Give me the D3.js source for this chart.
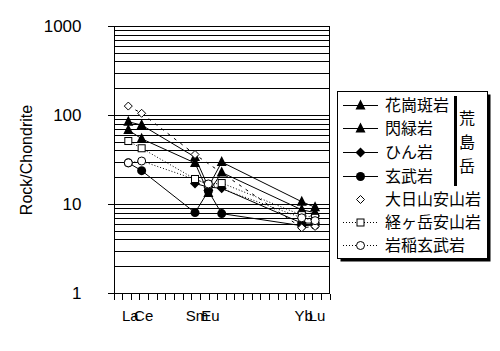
<!DOCTYPE html>
<html><head><meta charset="utf-8">
<script src="https://cdn.jsdelivr.net/npm/d3@7"></script>
<style>
html,body{margin:0;padding:0;background:#fff;}
svg{display:block;}
text{font-family:"Liberation Sans",Arial,sans-serif;fill:#000;}
.jp{font-family:"Noto Sans CJK JP","Noto Sans CJK SC",sans-serif;}
.narrow{font-family:"Liberation Sans Narrow","Liberation Sans",Arial,sans-serif;}
</style></head>
<body>
<svg id="chart" width="500" height="351"></svg>
<script>
// ---- data ----
const elements = ["La","Ce","Sm","Eu","Gd","Yb","Lu"];
const atomicNumbers = [57,58,62,63,64,70,71];
const axisLabels = ["La","Ce","Sm","Eu","Yb","Lu"];
const axisLabelZ = [57,58,62,63,70,71];
const yTickValues = [1,10,100,1000];
const seriesNames = ["花崗斑岩","閃緑岩","ひん岩","玄武岩","大日山安山岩","経ヶ岳安山岩","岩稲玄武岩"];
const kakoGranitePorphyry = [84, 77, 33.7, 15.5, 29.6, 10.6, 9.2];
const dioriteValues       = [68, 54, 28.9, 13.3, 22.6, 8.6, 8.0];
const porphyriteValues    = [null, null, 17.0, 15.5, 15.0, 6.1, 6.1];
const basaltValues        = [29, 23.7, 8.0, 14.0, 7.8, 5.7, 5.8];
const dainichiAndesite    = [126, 104.5, 36, null, null, 5.4, 5.6];
const kyogatakeAndesite   = [51, 42.3, 19.1, 16.5, 17.2, 7.5, 7.0];
const iwainaBasalt        = [29, 30.4, null, 16.8, null, 7.0, 6.5];
const seriesValues = [kakoGranitePorphyry, dioriteValues, porphyriteValues, basaltValues,
                      dainichiAndesite, kyogatakeAndesite, iwainaBasalt];
const seriesMarker = ["triangle","triangle","diamond","circle","diamondOpen","squareOpen","circleOpen"];
const seriesDash = [null,null,null,null,"3,5","1,2","1,2"];
const groupLabel = ["荒","島","岳"];

// ---- layout ----
const svg = d3.select("#chart");
const plot = {left:113.5, right:329.5, top:26, bottom:293};
const x = d3.scaleLinear().domain([55.89, 72.08]).range([plot.left, plot.right]);
const y = d3.scaleLog().domain([1,1000]).range([plot.bottom, plot.top]);

// gridlines (every 1..9 x decade)
const gridVals = [];
for (let d = 1; d <= 100; d *= 10) for (let m = 1; m <= 9; m++) gridVals.push(m*d);
gridVals.push(1000);
svg.append("g").attr("shape-rendering","crispEdges").selectAll("line").data(gridVals).join("line")
  .attr("x1", plot.left).attr("x2", plot.right)
  .attr("y1", d => Math.round(y(d))+0.5).attr("y2", d => Math.round(y(d))+0.5)
  .attr("stroke","#000").attr("stroke-width",1);

// right border
svg.append("line").attr("shape-rendering","crispEdges").attr("x1",plot.right).attr("x2",plot.right)
  .attr("y1",plot.top).attr("y2",plot.bottom).attr("stroke","#000");

// y axis
const yAxis = d3.axisLeft(y).tickValues(yTickValues).tickFormat(d3.format("d")).tickSize(6).tickPadding(26);
const gy = svg.append("g").attr("shape-rendering","crispEdges").attr("transform",`translate(${plot.left},0)`).call(yAxis);
gy.select(".domain").attr("stroke","#000");
gy.selectAll("text").attr("font-size","17px").attr("font-family","'Liberation Sans',Arial,sans-serif");

// x axis with evenly spaced tick marks
const tickScale = d3.scaleLinear().domain([0,25]).range([plot.left, plot.right]);
const gx = svg.append("g").attr("shape-rendering","crispEdges").attr("transform",`translate(0,${plot.bottom+0.5})`);
gx.append("line").attr("x1",plot.left-6).attr("x2",plot.right).attr("stroke","#000");
gx.selectAll("line.t").data(d3.range(26)).join("line").attr("class","t")
  .attr("x1",d=>Math.round(tickScale(d))+0.5).attr("x2",d=>Math.round(tickScale(d))+0.5)
  .attr("y1",0).attr("y2",6).attr("stroke","#000");
gx.selectAll("text").data(axisLabels).join("text").attr("class","narrow")
  .attr("x",(d,i)=>x(axisLabelZ[i])).attr("dx",2).attr("y",27)
  .attr("text-anchor","middle").attr("font-size","15px").text(d=>d);

// y title
svg.append("text").attr("transform",`translate(32,160) rotate(-90)`)
  .attr("text-anchor","middle").attr("font-size","16px").text("Rock/Chondrite");

// lines
const lineGen = d3.line().defined(d => d.v != null).x(d => x(d.z)).y(d => y(d.v));
seriesValues.forEach((vals, si) => {
  const pts = vals.map((v,i)=>({z:atomicNumbers[i], v})).filter(d=>d.v!=null);
  svg.append("path").datum(pts).attr("d", lineGen)
    .attr("fill","none").attr("stroke","#000").attr("stroke-width",1)
    .attr("stroke-dasharray", seriesDash[si]);
});

function drawMarker(g, type, cx, cy) {
  if (type === "triangle") {
    g.append("path").attr("d", `M${cx},${cy-6}L${cx+5},${cy+4}L${cx-5},${cy+4}Z`).attr("fill","#000");
  } else if (type === "diamond") {
    g.append("path").attr("d", `M${cx},${cy-5}L${cx+5},${cy}L${cx},${cy+5}L${cx-5},${cy}Z`).attr("fill","#000");
  } else if (type === "circle") {
    g.append("circle").attr("cx",cx).attr("cy",cy).attr("r",4.5).attr("fill","#000");
  } else if (type === "diamondOpen") {
    g.append("path").attr("d", `M${cx},${cy-4}L${cx+4},${cy}L${cx},${cy+4}L${cx-4},${cy}Z`).attr("fill","#fff").attr("stroke","#000");
  } else if (type === "squareOpen") {
    g.append("rect").attr("x",cx-3.5).attr("y",cy-3.5).attr("width",7).attr("height",7).attr("fill","#fff").attr("stroke","#000");
  } else if (type === "circleOpen") {
    g.append("circle").attr("cx",cx).attr("cy",cy).attr("r",4).attr("fill","#fff").attr("stroke","#000");
  }
}
seriesValues.forEach((vals, si) => {
  const g = svg.append("g");
  vals.forEach((v,i) => { if (v != null) drawMarker(g, seriesMarker[si], x(atomicNumbers[i]), y(v)); });
});

// legend
const lg = {x:337.5, y:91.5, w:150, h:167};
svg.append("rect").attr("x",lg.x+3).attr("y",lg.y+3).attr("width",lg.w).attr("height",lg.h).attr("fill","#000");
svg.append("rect").attr("shape-rendering","crispEdges").attr("x",lg.x).attr("y",lg.y).attr("width",lg.w).attr("height",lg.h)
  .attr("fill","#fff").attr("stroke","#000");
const rowY = [105,128,152,176,199,222,245];
seriesNames.forEach((name, si) => {
  const ry = rowY[si];
  const g = svg.append("g");
  if (si !== 4) {
    g.append("line").attr("x1",343).attr("x2",378).attr("y1",ry+0.5).attr("y2",ry+0.5)
      .attr("stroke","#000").attr("stroke-dasharray", seriesDash[si]);
  }
  drawMarker(g, seriesMarker[si], 360.5, ry+0.5);
  g.append("text").attr("class","jp").attr("x",385).attr("y",ry+6)
    .attr("font-size","16px").text(name);
});
svg.append("rect").attr("x",454).attr("y",96).attr("width",3).attr("height",90).attr("fill","#000");
svg.selectAll("text.grp").data(groupLabel).join("text").attr("class","grp jp")
  .attr("x",467).attr("y",(d,i)=>124+i*24).attr("text-anchor","middle")
  .attr("font-size","16px").text(d=>d);
</script>
</body></html>
